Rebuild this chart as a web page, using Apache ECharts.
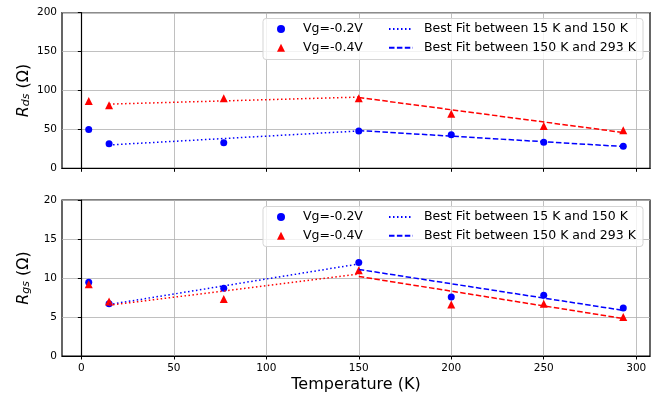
<!DOCTYPE html>
<html><head><meta charset="utf-8">
<script src="https://cdn.jsdelivr.net/npm/echarts@6/dist/echarts.min.js"></script>
<style>html,body{margin:0;padding:0;background:#fff}#c{width:670px;height:394px}</style>
</head><body><div id="c"></div>
<script>
const temps = [4, 15, 77, 150, 200, 250, 293];
const rdsVg02 = [50, 31.5, 33, 48, 43, 33.5, 28.5];
const rdsVg04 = [86.5, 81, 90, 90, 70, 54.5, 49];
const rgsVg02 = [9.45, 6.7, 8.7, 12.0, 7.55, 7.8, 6.15];
const rgsVg04 = [9.2, 7.0, 7.3, 11.0, 6.6, 6.7, 5.0];
const fitLowT = [15, 150];
const fitHighT = [150, 293];
const rdsFitLow02 = [30, 48];
const rdsFitHigh02 = [48.5, 28];
const rdsFitLow04 = [82.5, 91.5];
const rdsFitHigh04 = [91, 46];
const rgsFitLow02 = [6.6, 11.8];
const rgsFitHigh02 = [11.1, 5.85];
const rgsFitLow04 = [6.5, 10.5];
const rgsFitHigh04 = [10.2, 4.8];
const xTicks = [0, 50, 100, 150, 200, 250, 300];
const rdsTicks = [0, 50, 100, 150, 200];
const rgsTicks = [0, 5, 10, 15, 20];

const zip = (xs, ys) => xs.map((x, i) => [x, ys[i]]);
const FONT = 'DejaVu Sans';
const BLUE = '#0000ff', RED = '#ff0000';
const N02 = 'Vg=-0.2V', N04 = 'Vg=-0.4V';
const NLOW = 'Best Fit between 15 K and 150 K', NHIGH = 'Best Fit between 150 K and 293 K';
const DOT = [1.5, 2.5], DASH = [5.5, 2.4];

function xAxis(gi, labels) {
  return {
    type: 'value', gridIndex: gi, min: -10.45, max: 307.45, splitNumber: 6,
    axisLine: {show: true, onZero: false, lineStyle: {color: '#000', width: 1.2}},
    axisTick: {show: true, length: 3.5, lineStyle: {color: '#000'}, customValues: xTicks},
    axisLabel: {show: labels, customValues: xTicks, color: '#000', fontSize: 10.5, fontFamily: FONT, margin: 7},
    splitLine: {show: true, lineStyle: {color: '#b0b0b0', width: 0.8}},
    name: labels ? 'Temperature (K)' : '', nameLocation: 'middle', nameGap: 21, nameMoveOverlap: false,
    nameTextStyle: {fontSize: 16, fontFamily: FONT, color: '#000'}
  };
}
function yAxis(gi, ticks, sub) {
  return {
    type: 'value', gridIndex: gi, min: ticks[0], max: ticks[ticks.length - 1], interval: ticks[1] - ticks[0],
    axisLine: {show: true, lineStyle: {color: '#000', width: 1.2}},
    axisTick: {show: true, length: 3.5, lineStyle: {color: '#000'}},
    axisLabel: {color: '#000', fontSize: 10.5, fontFamily: FONT, margin: 5},
    splitLine: {show: true, lineStyle: {color: '#b0b0b0', width: 0.8}},
    name: '{r|R}{s|' + sub + '}{n| (Ω)}', nameLocation: 'middle', nameGap: 30, nameRotate: 90,
    nameMoveOverlap: false,
    nameTextStyle: {
      color: '#000', fontFamily: FONT,
      rich: {
        r: {fontSize: 16, fontStyle: 'italic', fontFamily: FONT, lineHeight: 20, verticalAlign: 'bottom'},
        s: {fontSize: 11, fontStyle: 'italic', fontFamily: FONT, lineHeight: 8, verticalAlign: 'bottom'},
        n: {fontSize: 16, fontFamily: FONT, lineHeight: 20, verticalAlign: 'bottom'}
      }
    }
  };
}
function scat(name, gi, ys, color, sym) {
  return {type: 'scatter', name: name, xAxisIndex: gi, yAxisIndex: gi, data: zip(temps, ys),
    symbol: sym, symbolSize: sym === 'triangle' ? 8 : 7, itemStyle: {color: color, opacity: 1}, z: 3};
}
function fit(name, gi, xs, ys, color, dash) {
  return {type: 'line', name: name, xAxisIndex: gi, yAxisIndex: gi, data: zip(xs, ys),
    symbol: 'none', showSymbol: false, itemStyle: {color: color},
    lineStyle: {color: color, width: 1.5, type: dash}, z: 4, animation: false};
}
function legends(top) {
  const common = {orient: 'vertical', top: top, itemGap: 4.7, padding: 0,
    textStyle: {fontSize: 12.5, fontFamily: FONT, color: '#000', lineHeight: 14},
    z: 10, selectedMode: false};
  return [
    Object.assign({}, common, {left: 277, itemWidth: 8, itemHeight: 8,
      textStyle: Object.assign({}, common.textStyle, {padding: [0, 0, 0, 13]}),
      data: [{name: N02, icon: 'circle'}, {name: N04, icon: 'triangle'}]}),
    Object.assign({}, common, {left: 388, itemWidth: 24, itemHeight: 7,
      textStyle: Object.assign({}, common.textStyle, {padding: [0, 0, 0, 6]}),
      data: [{name: NLOW, itemStyle: {opacity: 0}}, {name: NHIGH, itemStyle: {opacity: 0}}]})
  ];
}
const chart = echarts.init(document.getElementById('c'), null, {renderer: 'canvas'});
chart.setOption({
  animation: false,
  backgroundColor: '#fff',
  grid: [
    {left: 62, right: 20, top: 12.7, height: 155.6, show: true, borderColor: '#000', borderWidth: 1.2, backgroundColor: 'transparent'},
    {left: 62, right: 20, top: 200, height: 156, show: true, borderColor: '#000', borderWidth: 1.2, backgroundColor: 'transparent'}
  ],
  xAxis: [xAxis(0, false), xAxis(1, true)],
  yAxis: [yAxis(0, rdsTicks, 'ds'), yAxis(1, rgsTicks, 'gs')],
  legend: legends(22).concat(legends(210)),
  graphic: [
    {type: 'rect', shape: {x: 263, y: 18.5, width: 380, height: 41, r: 3}, z: 8,
     style: {fill: 'rgba(255,255,255,0.8)', stroke: '#d5d5d5', lineWidth: 1}},
    {type: 'rect', shape: {x: 263, y: 206.5, width: 380, height: 40, r: 3}, z: 8,
     style: {fill: 'rgba(255,255,255,0.8)', stroke: '#d5d5d5', lineWidth: 1}}
  ],
  series: [
    scat(N02, 0, rdsVg02, BLUE, 'circle'),
    scat(N04, 0, rdsVg04, RED, 'triangle'),
    fit(NLOW, 0, fitLowT, rdsFitLow02, BLUE, DOT),
    fit(NHIGH, 0, fitHighT, rdsFitHigh02, BLUE, DASH),
    fit(NLOW, 0, fitLowT, rdsFitLow04, RED, DOT),
    fit(NHIGH, 0, fitHighT, rdsFitHigh04, RED, DASH),
    scat(N02, 1, rgsVg02, BLUE, 'circle'),
    scat(N04, 1, rgsVg04, RED, 'triangle'),
    fit(NLOW, 1, fitLowT, rgsFitLow02, BLUE, DOT),
    fit(NHIGH, 1, fitHighT, rgsFitHigh02, BLUE, DASH),
    fit(NLOW, 1, fitLowT, rgsFitLow04, RED, DOT),
    fit(NHIGH, 1, fitHighT, rgsFitHigh04, RED, DASH)
  ]
});
</script></body></html>
